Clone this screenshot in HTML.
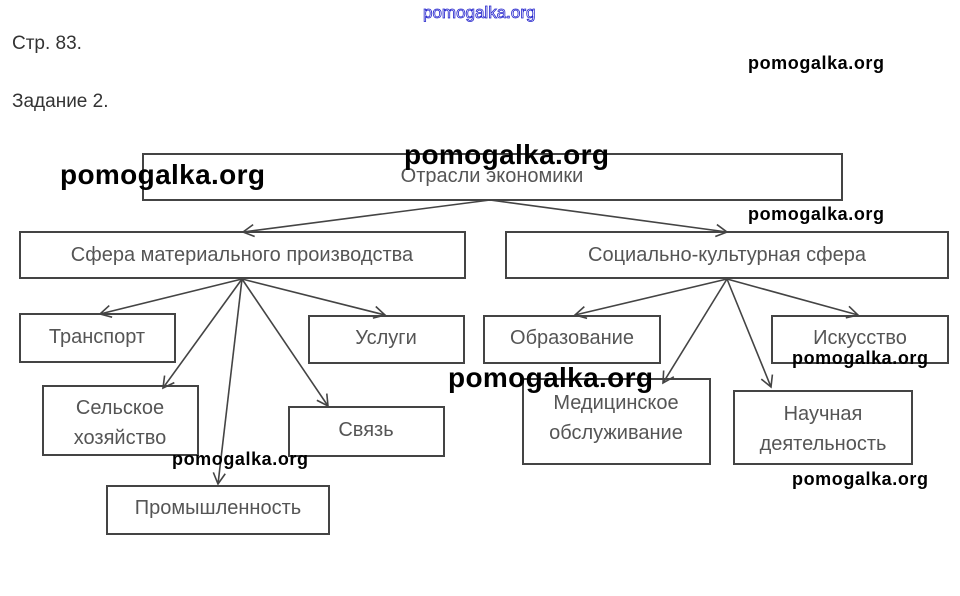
<!DOCTYPE html>
<html><head><meta charset="utf-8"><style>
html,body{margin:0;padding:0;background:#fff;width:960px;height:596px;overflow:hidden}
svg{display:block}
.b{fill:#fff;stroke:#444;stroke-width:2}
.t{font-family:"Liberation Sans",sans-serif;font-size:20px;fill:#555;text-anchor:middle}
.w{font-family:"Liberation Sans",sans-serif;font-weight:bold;fill:#000}
.l{stroke:#444;stroke-width:1.6;fill:none}
</style></head><body>
<svg width="960" height="596" viewBox="0 0 960 596" xmlns="http://www.w3.org/2000/svg">
<defs><marker id="a" markerWidth="14" markerHeight="14" refX="12" refY="7" orient="auto" markerUnits="userSpaceOnUse"><path d="M1,1 L12,7 L1,13" fill="none" stroke="#444" stroke-width="1.6"/></marker></defs>
<text x="423" y="18" font-family="Liberation Sans,sans-serif" font-size="17" fill="#fff" stroke="#2222cc" stroke-width="0.8">pomogalka.org</text>
<text x="12" y="49" font-family="Liberation Sans,sans-serif" font-size="19" fill="#333">Стр. 83.</text>
<text x="12" y="107" font-family="Liberation Sans,sans-serif" font-size="19" fill="#333">Задание 2.</text>
<text x="748" y="69" class="w" font-size="18" textLength="136">pomogalka.org</text>

<rect class="b" x="143" y="154" width="699" height="46"/>
<text class="t" x="492" y="182" font-size="21">Отрасли экономики</text>
<rect class="b" x="20" y="232" width="445" height="46"/>
<text class="t" x="242" y="261">Сфера материального производства</text>
<rect class="b" x="506" y="232" width="442" height="46"/>
<text class="t" x="727" y="261">Социально-культурная сфера</text>

<rect class="b" x="20" y="314" width="155" height="48"/><text class="t" x="97" y="343">Транспорт</text>
<rect class="b" x="309" y="316" width="155" height="47"/><text class="t" x="386" y="344">Услуги</text>
<rect class="b" x="43" y="386" width="155" height="69"/><text class="t" x="120" y="414">Сельское</text><text class="t" x="120" y="444">хозяйство</text>
<rect class="b" x="289" y="407" width="155" height="49"/><text class="t" x="366" y="436">Связь</text>
<rect class="b" x="107" y="486" width="222" height="48"/><text class="t" x="218" y="514">Промышленность</text>

<rect class="b" x="484" y="316" width="176" height="47"/><text class="t" x="572" y="344">Образование</text>
<rect class="b" x="772" y="316" width="176" height="47"/><text class="t" x="860" y="344">Искусство</text>
<rect class="b" x="523" y="379" width="187" height="85"/><text class="t" x="616" y="409">Медицинское</text><text class="t" x="616" y="439">обслуживание</text>
<rect class="b" x="734" y="391" width="178" height="73"/><text class="t" x="823" y="420">Научная</text><text class="t" x="823" y="450">деятельность</text>

<g class="l">
<line x1="490" y1="200" x2="243" y2="232" marker-end="url(#a)"/>
<line x1="490" y1="200" x2="727" y2="232" marker-end="url(#a)"/>
<line x1="242" y1="279" x2="100" y2="314" marker-end="url(#a)"/>
<line x1="242" y1="279" x2="385" y2="315" marker-end="url(#a)"/>
<line x1="242" y1="279" x2="163" y2="388" marker-end="url(#a)"/>
<line x1="242" y1="279" x2="218" y2="484" marker-end="url(#a)"/>
<line x1="242" y1="279" x2="328" y2="406" marker-end="url(#a)"/>
<line x1="727" y1="279" x2="575" y2="315" marker-end="url(#a)"/>
<line x1="727" y1="279" x2="858" y2="315" marker-end="url(#a)"/>
<line x1="727" y1="279" x2="663" y2="383" marker-end="url(#a)"/>
<line x1="727" y1="279" x2="771" y2="387" marker-end="url(#a)"/>
</g>

<text x="60" y="184" class="w" font-size="28" textLength="205">pomogalka.org</text>
<text x="404" y="164" class="w" font-size="28" textLength="205">pomogalka.org</text>
<text x="748" y="220" class="w" font-size="18" textLength="136">pomogalka.org</text>
<text x="792" y="364" class="w" font-size="18" textLength="136">pomogalka.org</text>
<text x="448" y="387" class="w" font-size="28" textLength="205">pomogalka.org</text>
<text x="172" y="465" class="w" font-size="18" textLength="136">pomogalka.org</text>
<text x="792" y="485" class="w" font-size="18" textLength="136">pomogalka.org</text>
</svg>
</body></html>
